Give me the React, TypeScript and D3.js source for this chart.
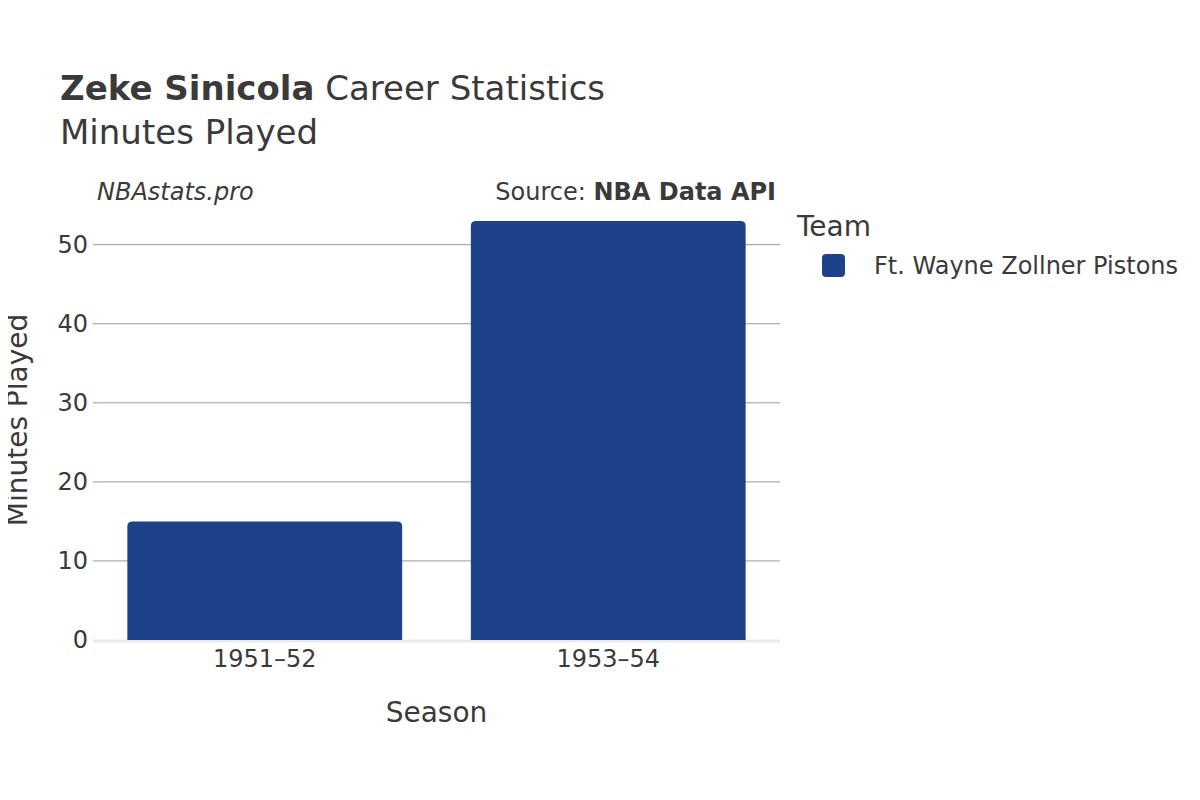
import { useEffect, useRef } from 'react'
import * as d3 from 'd3'

const seasons = ['1951–52', '1953–54']
const minutes = [15, 53]
const yTicks = [0, 10, 20, 30, 40, 50]
const teamName = 'Ft. Wayne Zollner Pistons'
const teamColor = '#1d428a'

export default function App() {
  const svgRef = useRef<SVGSVGElement>(null)

  useEffect(() => {
    if (!svgRef.current) return
    const svg = d3.select(svgRef.current)
    svg.selectAll('*').remove()

    const font = '"DejaVu Sans", sans-serif'
    const textColor = '#3a3a3a'
    const margin = { top: 200, left: 93, right: 420, bottom: 160 }
    const width = 1200 - margin.left - margin.right
    const height = 800 - margin.top - margin.bottom

    const x = d3.scaleBand().domain(seasons).range([0, width]).paddingInner(0.2).paddingOuter(0.1)
    const y = d3.scaleLinear().domain([0, d3.max(minutes)! * 1.05]).range([height, 0])

    svg.append('rect').attr('width', 1200).attr('height', 800).attr('fill', '#fff')

    const g = svg.append('g').attr('transform', `translate(${margin.left},${margin.top})`)

    // grid lines
    g.selectAll('.grid')
      .data(yTicks.filter(t => t > 0))
      .enter().append('line')
      .attr('x1', 0).attr('x2', width)
      .attr('y1', d => y(d)).attr('y2', d => y(d))
      .attr('stroke', '#999').attr('stroke-width', 1)

    // zero line
    g.append('line')
      .attr('x1', 0).attr('x2', width)
      .attr('y1', y(0) + 1).attr('y2', y(0) + 1)
      .attr('stroke', '#ebebeb').attr('stroke-width', 3)

    // bars with rounded tops
    const r = 5
    g.selectAll('.bar')
      .data(seasons.map((s, i) => ({ s, v: minutes[i] })))
      .enter().append('path')
      .attr('fill', teamColor)
      .attr('d', d => {
        const x0 = x(d.s)!
        const x1 = x0 + x.bandwidth()
        const yt = y(d.v)
        const yb = y(0)
        return `M${x0},${yb}V${yt + r}Q${x0},${yt} ${x0 + r},${yt}H${x1 - r}Q${x1},${yt} ${x1},${yt + r}V${yb}Z`
      })

    // y tick labels
    g.selectAll('.ytick')
      .data(yTicks)
      .enter().append('text')
      .attr('x', -5).attr('y', d => y(d)).attr('dy', '0.35em')
      .attr('text-anchor', 'end')
      .style('font-family', font).style('font-size', '24px').style('fill', textColor)
      .text(d => d)

    // x tick labels
    g.selectAll('.xtick')
      .data(seasons)
      .enter().append('text')
      .attr('x', d => x(d)! + x.bandwidth() / 2).attr('y', height + 27)
      .attr('text-anchor', 'middle')
      .style('font-family', font).style('font-size', '24px').style('fill', textColor)
      .text(d => d)

    // axis titles
    g.append('text')
      .attr('x', width / 2).attr('y', height + 82)
      .attr('text-anchor', 'middle')
      .style('font-family', font).style('font-size', '28px').style('fill', textColor)
      .text('Season')

    svg.append('text')
      .attr('transform', `translate(27,${margin.top + height / 2}) rotate(-90)`)
      .attr('text-anchor', 'middle')
      .style('font-family', font).style('font-size', '28px').style('fill', textColor)
      .text('Minutes Played')

    // title
    const title = svg.append('text')
      .attr('x', 60).attr('y', 100)
      .style('font-family', font).style('font-size', '34px').style('fill', textColor)
    title.append('tspan').style('font-weight', 'bold').text('Zeke Sinicola')
    title.append('tspan').text(' Career Statistics')

    svg.append('text')
      .attr('x', 60).attr('y', 144)
      .style('font-family', font).style('font-size', '34px').style('fill', textColor)
      .text('Minutes Played')

    // notes
    svg.append('text')
      .attr('x', 97).attr('y', 200)
      .style('font-family', font).style('font-size', '24px').style('font-style', 'italic').style('fill', textColor)
      .text('NBAstats.pro')

    const src = svg.append('text')
      .attr('x', 776).attr('y', 200).attr('text-anchor', 'end')
      .style('font-family', font).style('font-size', '24px').style('fill', textColor)
    src.append('tspan').text('Source: ')
    src.append('tspan').style('font-weight', 'bold').text('NBA Data API')

    // legend
    svg.append('text')
      .attr('x', 797).attr('y', 236)
      .style('font-family', font).style('font-size', '28px').style('fill', textColor)
      .text('Team')

    svg.append('rect')
      .attr('x', 822).attr('y', 254).attr('width', 23).attr('height', 23).attr('rx', 4)
      .attr('fill', teamColor)

    svg.append('text')
      .attr('x', 874).attr('y', 266).attr('dy', '0.35em')
      .style('font-family', font).style('font-size', '24px').style('fill', textColor)
      .text(teamName)
  }, [])

  return (
    <svg ref={svgRef} width={1200} height={800} style={{ display: 'block', margin: '-8px' }} />
  )
}
